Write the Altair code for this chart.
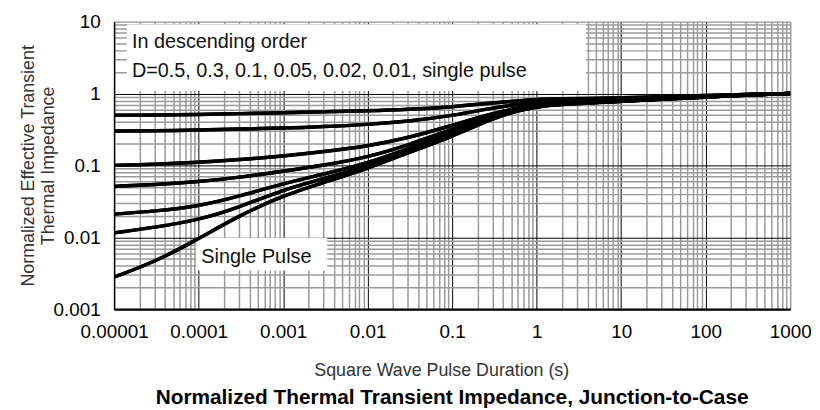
import altair as alt
import pandas as pd

# ---- data ----
pulse_time = [1e-5, 3e-5, 1e-4, 3e-4, 1e-3, 3e-3, 1e-2, 3e-2, 0.1, 0.3, 0.6,
              1, 2, 4, 10, 30, 100, 300, 1000]

z_d050 = [0.50, 0.502, 0.51, 0.525, 0.54, 0.555, 0.575, 0.60, 0.65, 0.74, 0.79,
          0.83, 0.845, 0.855, 0.87, 0.90, 0.935, 0.975, 1.0]
z_d030 = [0.30, 0.302, 0.31, 0.32, 0.33, 0.345, 0.37, 0.41, 0.49, 0.63, 0.71,
          0.76, 0.785, 0.805, 0.83, 0.875, 0.92, 0.97, 1.0]
z_d010 = [0.10, 0.103, 0.11, 0.12, 0.135, 0.155, 0.185, 0.24, 0.36, 0.53, 0.63,
          0.695, 0.735, 0.76, 0.80, 0.855, 0.907, 0.963, 1.0]
z_d005 = [0.051, 0.054, 0.059, 0.068, 0.083, 0.10, 0.13, 0.19, 0.32, 0.495, 0.605,
          0.675, 0.72, 0.75, 0.79, 0.845, 0.90, 0.96, 1.0]
z_d002 = [0.021, 0.023, 0.027, 0.037, 0.056, 0.075, 0.107, 0.17, 0.28, 0.47, 0.59,
          0.665, 0.715, 0.745, 0.785, 0.84, 0.897, 0.956, 1.0]
z_d001 = [0.0115, 0.0137, 0.0174, 0.026, 0.046, 0.065, 0.097, 0.16, 0.26, 0.46, 0.585,
          0.66, 0.71, 0.74, 0.78, 0.835, 0.893, 0.953, 1.0]
z_single = [0.0028, 0.0045, 0.0095, 0.020, 0.038, 0.058, 0.09, 0.15, 0.25, 0.45, 0.575,
            0.655, 0.705, 0.735, 0.775, 0.83, 0.89, 0.95, 1.0]

series_names = ["D=0.5", "D=0.3", "D=0.1", "D=0.05", "D=0.02", "D=0.01", "single pulse"]
series_values = [z_d050, z_d030, z_d010, z_d005, z_d002, z_d001, z_single]

x_major = [1e-5, 1e-4, 1e-3, 1e-2, 1e-1, 1, 10, 100, 1000]
x_labels = ["0.00001", "0.0001", "0.001", "0.01", "0.1", "1", "10", "100", "1000"]
y_major = [0.001, 0.01, 0.1, 1, 10]
y_labels = ["0.001", "0.01", "0.1", "1", "10"]

legend_lines = ["In descending order",
                "D=0.5, 0.3, 0.1, 0.05, 0.02, 0.01, single pulse"]
single_label = "Single Pulse"

x_title = "Square Wave Pulse Duration (s)"
y_title = ["Normalized Effective Transient", "Thermal Impedance"]
main_title = "Normalized Thermal Transient Impedance, Junction-to-Case"

# ---- build table ----
rows = []
for name, vals in zip(series_names, series_values):
    for t, z in zip(pulse_time, vals):
        rows.append({"series": name, "t": t, "z": z})
df = pd.DataFrame(rows)

# grid values: 1..9 per decade
x_grid = [m * 10.0 ** e for e in range(-5, 3) for m in range(1, 10)] + [1000.0]
y_grid = [m * 10.0 ** e for e in range(-3, 1) for m in range(1, 10)] + [10.0]


def label_expr(vals, labs):
    s = ""
    for v, lab in zip(vals, labs):
        s += f"abs(datum.value / {v!r} - 1) < 1e-6 ? '{lab}' : "
    return s + "''"


is_major = "abs(log(datum.value)/LN10 - round(log(datum.value)/LN10)) < 0.001"
FONT = "Liberation Sans"

x_axis = alt.Axis(
    values=x_grid, labelExpr=label_expr(x_major, x_labels), ticks=False,
    grid=True,
    gridColor={"condition": {"test": is_major + " && datum.value < 999", "value": "#000000"},
               "value": "#9a9a9a"},
    gridWidth={"condition": {"test": is_major + " && datum.value < 999", "value": 1},
               "value": 1.5},
    labelFont=FONT, labelFontSize=19, labelColor="#000000", labelPadding=14,
    labelFlush=False, labelOverlap=False,
    domainColor="#000000", domainWidth=2.5,
    title=x_title, titleFont=FONT, titleFontSize=18, titleFontWeight="normal",
    titleColor="#333333", titleX=330, titleY=62, titleBaseline="middle",
    titleAlign="center",
)
y_axis = alt.Axis(
    values=y_grid, labelExpr=label_expr(y_major, y_labels), ticks=False,
    grid=True,
    gridColor={"condition": {"test": is_major + " && datum.value < 9.99", "value": "#000000"},
               "value": "#9a9a9a"},
    gridWidth={"condition": {"test": is_major + " && datum.value < 9.99", "value": 1},
               "value": 1.5},
    labelFont=FONT, labelFontSize=19, labelColor="#000000", labelPadding=14,
    labelFlush=False, labelOverlap=False, labelBaseline="middle",
    domainColor="#000000", domainWidth=1.5,
    title=y_title, titleFont=FONT, titleFontSize=18, titleFontWeight="normal",
    titleColor="#333333", titleX=-86, titleY=145, titleAngle=-90,
    titleBaseline="middle", titleAlign="center", titleLineHeight=20,
)

x_scale = alt.Scale(type="log", domain=[1e-5, 1000], nice=False)
y_scale = alt.Scale(type="log", domain=[0.001, 10], nice=False)

lines = alt.Chart(df).mark_line(
    color="black", strokeWidth=3.5, interpolate="basis", clip=True
).encode(
    x=alt.X("t:Q", scale=x_scale, axis=x_axis),
    y=alt.Y("z:Q", scale=y_scale, axis=y_axis),
    detail="series:N",
)

one = pd.DataFrame({"k": [0]})

legend_box = alt.Chart(one).mark_rect(color="white").encode(
    x=alt.value(13), x2=alt.value(476), y=alt.value(3), y2=alt.value(70)
)
legend_text1 = alt.Chart(one).mark_text(
    align="left", baseline="middle", font=FONT, fontSize=20, color="#111111"
).encode(x=alt.value(18), y=alt.value(21), text=alt.value(legend_lines[0]))
legend_text2 = alt.Chart(one).mark_text(
    align="left", baseline="middle", font=FONT, fontSize=20, color="#111111"
).encode(x=alt.value(18), y=alt.value(50), text=alt.value(legend_lines[1]))

sp_box = alt.Chart(one).mark_rect(color="white").encode(
    x=alt.value(83), x2=alt.value(215), y=alt.value(218), y2=alt.value(251)
)
sp_text = alt.Chart(one).mark_text(
    align="left", baseline="middle", font=FONT, fontSize=20, color="#111111"
).encode(x=alt.value(88), y=alt.value(237), text=alt.value(single_label))

chart = alt.layer(
    lines, legend_box, sp_box, legend_text1, legend_text2, sp_text, lines
).properties(
    width=682, height=290,
    autosize=alt.AutoSizeParams(type="none"),
    padding={"left": 107, "top": 12, "right": 22, "bottom": 100},
    title=alt.TitleParams(
        main_title, orient="bottom", anchor="middle", font=FONT, fontSize=21,
        fontWeight="bold", color="#000000", offset=8,
    ),
).configure_view(stroke=None).configure(background="white")

chart.save("out.html", embed_options={"renderer": "svg", "actions": False})
